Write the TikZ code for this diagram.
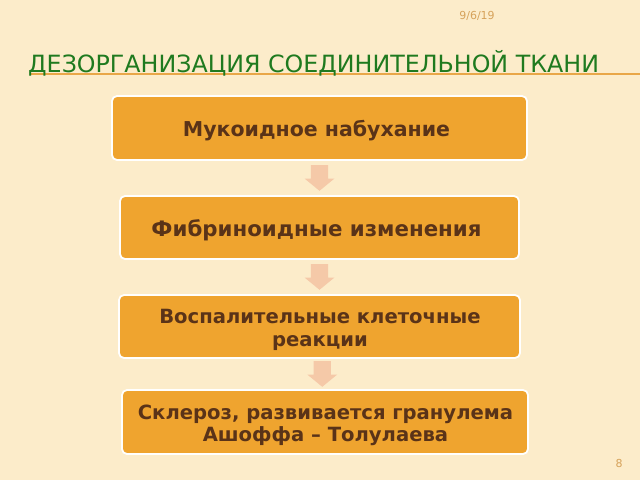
\documentclass[tikz,border=0pt]{standalone}
\usepackage{fontspec}
\setmainfont{DejaVu Sans}
\usetikzlibrary{calc}
\definecolor{bg}{HTML}{FCECCA}
\definecolor{boxc}{HTML}{EFA42F}
\definecolor{txtc}{HTML}{5A3318}
\definecolor{arrc}{HTML}{F5C9A8}
\definecolor{ttlc}{HTML}{1F7A1F}
\definecolor{lnc}{HTML}{E9A748}
\definecolor{smc}{HTML}{D6A25A}
\begin{document}
\begin{tikzpicture}[x=1pt,y=-1pt,
  stage/.style={draw=white, line width=1.8pt, fill=boxc, rounded corners=5pt, inner sep=0pt},
  lbl/.style={text=txtc, font=\bfseries\fontsize{#1}{22.5}\selectfont, align=center, inner sep=0pt},
  small/.style={text=smc, font=\fontsize{11}{12}\selectfont}]
\useasboundingbox (0,0) rectangle (640,480);
\fill[bg] (0,0) rectangle (640,480);
\node[small] (date) at (477,15.5) {9/6/19};
\draw[lnc, line width=1.2pt] (30,74)--(640,74);
\node[anchor=base west, text=ttlc, font=\fontsize{23.75}{26}\selectfont, inner sep=0pt] (title) at (28,72) {ДЕЗОРГАНИЗАЦИЯ СОЕДИНИТЕЛЬНОЙ ТКАНИ};
\node[stage, minimum width=415, minimum height=64] (b1) at (319.5,128) {};
\node[stage, minimum width=399, minimum height=63] (b2) at (319.5,227.5) {};
\node[stage, minimum width=401, minimum height=63] (b3) at (319.5,326.5) {};
\node[stage, minimum width=406, minimum height=64] (b4) at (325,422) {};
\node[lbl=20.5] (t1) at ($(b1)+(-3,3)$) {Мукоидное набухание};
\node[lbl=21.3] (t2) at ($(b2)+(-3,3)$) {Фибриноидные изменения};
\node[lbl=19.6] (t3) at ($(b3)+(0.5,3.5)$) {Воспалительные клеточные\\реакции};
\node[lbl=19.6] (t4) at ($(b4)+(0.5,3.5)$) {Склероз, развивается гранулема\\Ашоффа – Толулаева};
\foreach \a/\b in {b1/b2,b2/b3,b3/b4}
 \fill[arrc] ($(\a.south)!.5!(\b.north)$) ++(-8.7,-12.8) --++(17.4,0) --++(0,13.3) --++(6.3,0) --++(-15,12.3) --++(-15,-12.3) --++(6.3,0) -- cycle;
\node[small] (page) at (619,463) {8};
\end{tikzpicture}
\end{document}
